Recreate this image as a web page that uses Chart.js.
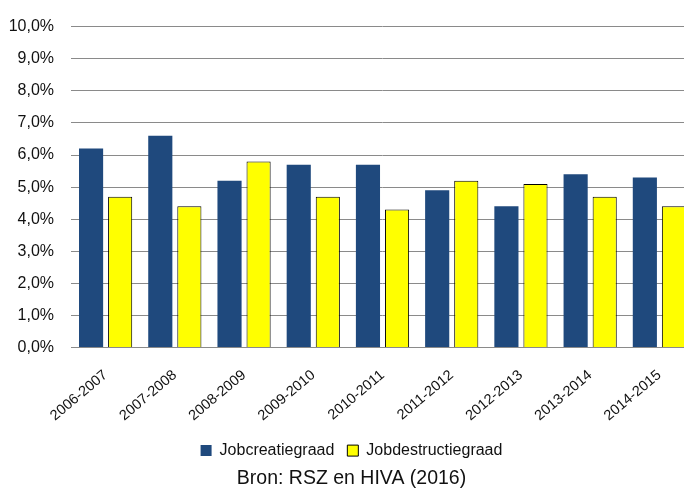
<!DOCTYPE html>
<html>
<head>
<meta charset="utf-8">
<script src="https://cdn.jsdelivr.net/npm/chart.js@4/dist/chart.umd.min.js"></script>
<style>
  html, body { margin: 0; padding: 0; overflow: hidden; background: #fff; }
  #wrap { position: relative; width: 700px; height: 490px; }
</style>
</head>
<body>
<div id="wrap"><canvas id="c"></canvas></div>
<script>
const categories = ['2006-2007','2007-2008','2008-2009','2009-2010','2010-2011','2011-2012','2012-2013','2013-2014','2014-2015'];
const jobcreatiegraad = [6.2, 6.6, 5.2, 5.7, 5.7, 4.9, 4.4, 5.4, 5.3];
const jobdestructiegraad = [4.7, 4.4, 5.8, 4.7, 4.3, 5.2, 5.1, 4.7, 4.4];
const seriesNames = ['Jobcreatiegraad', 'Jobdestructiegraad'];
const sourceText = 'Bron: RSZ en HIVA (2016)';

const FONT = "'Liberation Sans', Arial, sans-serif";

new Chart(document.getElementById('c'), {
  type: 'bar',
  data: {
    labels: categories,
    datasets: [
      { label: seriesNames[0], data: jobcreatiegraad, backgroundColor: '#1f497d', borderWidth: 0,
        categoryPercentage: 0.84, barPercentage: 0.83 },
      { label: seriesNames[1], data: jobdestructiegraad, backgroundColor: '#ffff00', borderColor: '#000000', borderWidth: 1,
        categoryPercentage: 0.84, barPercentage: 0.83 }
    ]
  },
  options: {
    responsive: true,
    maintainAspectRatio: false,
    animation: false,
    layout: { padding: { top: 10, left: 9, right: 6, bottom: 0 } },
    scales: {
      x: {
        grid: { display: false },
        border: { display: true, color: '#8a8a8a', width: 1 },
        ticks: {
          color: '#111', font: { family: FONT, size: 14.5 },
          maxRotation: 40, minRotation: 40, padding: 11, autoSkip: false
        },
        afterFit: s => { s.paddingLeft = 0; s.paddingRight = 0; s.height = 82; }
      },
      y: {
        min: 0, max: 10,
        border: { display: false },
        grid: { color: '#8a8a8a', lineWidth: 1, drawTicks: false },
        ticks: {
          stepSize: 1, padding: 17, color: '#111', font: { family: FONT, size: 16 },
          callback: v => v.toFixed(1).replace('.', ',') + '%'
        },
        afterFit: s => { s.width = 62; }
      }
    },
    plugins: {
      legend: {
        position: 'bottom',
        labels: { boxWidth: 11, boxHeight: 11, padding: 13, color: '#111', font: { family: FONT, size: 16 } }
      },
      title: {
        display: true, position: 'bottom', text: sourceText, color: '#111',
        font: { family: FONT, size: 19.5, weight: 'normal' },
        padding: { top: -2, bottom: 0 }
      },
      tooltip: { enabled: false }
    }
  }
});
</script>
</body>
</html>
